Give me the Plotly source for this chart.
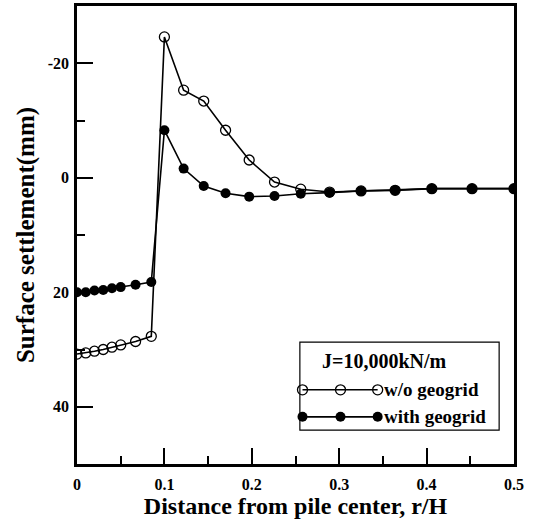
import plotly.graph_objects as go

# Data
r_wo = [0, 0.01, 0.02, 0.03, 0.04, 0.05, 0.067, 0.085, 0.1, 0.122, 0.145, 0.17, 0.197, 0.226, 0.256,
        0.289, 0.325, 0.364, 0.406, 0.452, 0.5]
s_wo = [30.8, 30.6, 30.3, 30.0, 29.6, 29.2, 28.6, 27.7, -24.6, -15.3, -13.4, -8.3, -3.1, 0.75, 2.0,
        2.5, 2.3, 2.2, 1.9, 1.9, 1.9]
r_with = [0, 0.01, 0.02, 0.03, 0.04, 0.05, 0.067, 0.085, 0.1, 0.122, 0.145, 0.17, 0.197, 0.226, 0.256,
          0.289, 0.325, 0.364, 0.406, 0.452, 0.5]
s_with = [20.0, 20.0, 19.7, 19.6, 19.3, 19.1, 18.7, 18.2, -8.3, -1.6, 1.45, 2.7, 3.3, 3.2, 2.8,
          2.6, 2.3, 2.2, 1.9, 1.9, 1.9]

y_ticks = [-20, 0, 20, 40]
y_labels = ["-20", "0", "20", "40"]
x_ticks = [0, 0.1, 0.2, 0.3, 0.4, 0.5]
x_labels = ["0", "0.1", "0.2", "0.3", "0.4", "0.5"]

legend_title = "J=10,000kN/m"
legend_names = ["w/o geogrid", "with geogrid"]

FONT = "Liberation Serif"

fig = go.Figure()
fig.add_trace(go.Scatter(x=r_wo, y=s_wo, mode="lines+markers",
                         line=dict(color="black", width=1.6),
                         marker=dict(symbol="circle-open", size=10, color="black", line=dict(width=1.3)),
                         showlegend=False))
fig.add_trace(go.Scatter(x=r_with, y=s_with, mode="lines+markers",
                         line=dict(color="black", width=1.6),
                         marker=dict(symbol="circle", size=10, color="black"),
                         showlegend=False))

# Manual legend (paper-fraction overlay axes)
lx = [0.516, 0.603, 0.688]
ly = [0.162, 0.103]
fig.add_trace(go.Scatter(x=lx, y=[ly[0]] * 3, xaxis="x2", yaxis="y2", mode="lines+markers",
                         line=dict(color="black", width=1.6),
                         marker=dict(symbol="circle-open", size=10, color="black", line=dict(width=1.3)),
                         showlegend=False, hoverinfo="skip"))
fig.add_trace(go.Scatter(x=lx, y=[ly[1]] * 3, xaxis="x2", yaxis="y2", mode="lines+markers",
                         line=dict(color="black", width=1.6),
                         marker=dict(symbol="circle", size=10, color="black"),
                         showlegend=False, hoverinfo="skip"))

fig.add_shape(type="rect", xref="paper", yref="paper", x0=0.510, x1=0.966, y0=0.074, y1=0.266,
              line=dict(color="black", width=1.2), fillcolor="white", layer="below")
fig.add_annotation(xref="paper", yref="paper", x=0.703, y=0.225, text=legend_title, showarrow=False,
                   xanchor="center", yanchor="middle",
                   font=dict(family=FONT, size=20, color="black", weight="bold"))
for name, yy in zip(legend_names, ly):
    fig.add_annotation(xref="paper", yref="paper", x=0.698, y=yy, text=name, showarrow=False,
                       xanchor="left", yanchor="middle",
                       font=dict(family=FONT, size=19, color="black", weight="bold"))

fig.update_layout(
    width=535, height=527,
    margin=dict(l=77, r=21, t=6, b=63, autoexpand=False),
    plot_bgcolor="white", paper_bgcolor="white",
    font=dict(family=FONT, color="black"),
    xaxis=dict(range=[0, 0.5], tickvals=x_ticks, ticktext=x_labels, ticks="inside", ticklen=16,
               tickwidth=2, tickcolor="black", showline=True, linewidth=2.5, linecolor="black",
               mirror=True, showgrid=False, zeroline=False, automargin=False, ticklabelstandoff=4,
               minor=dict(dtick=0.05, tick0=0, ticks="inside", ticklen=8, tickwidth=2, tickcolor="black"),
               tickfont=dict(family=FONT, size=16, color="black", weight="bold"),
               title=dict(text="Distance from pile center, r/H", standoff=0,
                          font=dict(family=FONT, size=24, color="black", weight="bold"))),
    yaxis=dict(range=[50, -30], tickvals=y_ticks, ticktext=y_labels, ticks="inside", ticklen=16,
               tickwidth=2, tickcolor="black", showline=True, linewidth=2.5, linecolor="black",
               mirror=True, showgrid=False, zeroline=False, automargin=False, ticklabelstandoff=2,
               minor=dict(dtick=10, tick0=0, ticks="inside", ticklen=8, tickwidth=2, tickcolor="black"),
               tickfont=dict(family=FONT, size=16, color="black", weight="bold"),
               title=dict(text="Surface settlement(mm)", standoff=6,
                          font=dict(family=FONT, size=25, color="black", weight="bold"))),
    xaxis2=dict(range=[0, 1], domain=[0, 1], overlaying="x", visible=False, fixedrange=True),
    yaxis2=dict(range=[0, 1], domain=[0, 1], overlaying="y", visible=False, fixedrange=True),
)

fig.write_html("out.html", config={"displayModeBar": False},
               post_script="document.body.style.margin='0';")
